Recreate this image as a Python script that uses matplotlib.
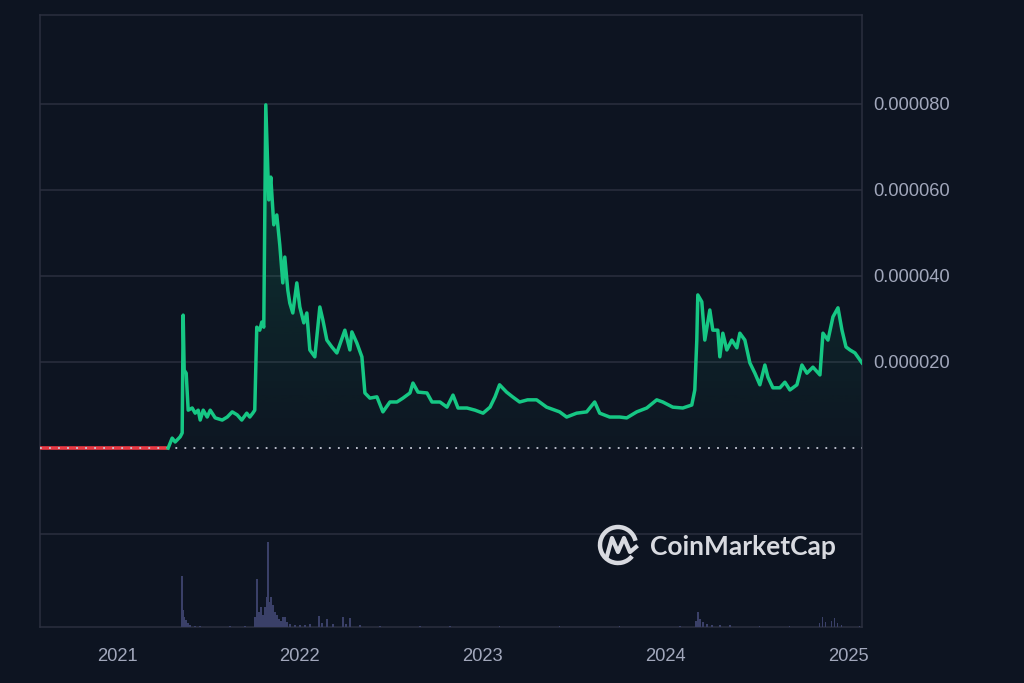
import numpy as np
import pandas as pd
import matplotlib
matplotlib.use("Agg")
import matplotlib.pyplot as plt
import matplotlib.dates as mdates
from matplotlib.patches import Arc
from matplotlib.lines import Line2D

# price in units of 1e-6 USD
dates = ["2021-04-13", "2021-04-21", "2021-04-27", "2021-05-07", "2021-05-11", "2021-05-13",
         "2021-05-15", "2021-05-19", "2021-05-23", "2021-05-31", "2021-06-06", "2021-06-12",
         "2021-06-16", "2021-06-22", "2021-06-30", "2021-07-06", "2021-07-16", "2021-07-30",
         "2021-08-09", "2021-08-19", "2021-08-29", "2021-09-07", "2021-09-17", "2021-09-23",
         "2021-09-29", "2021-10-03", "2021-10-07", "2021-10-13", "2021-10-17", "2021-10-21",
         "2021-10-25", "2021-10-31", "2021-11-04", "2021-11-10", "2021-11-16", "2021-11-22",
         "2021-11-28", "2021-12-02", "2021-12-08", "2021-12-12", "2021-12-18", "2021-12-26",
         "2022-01-01", "2022-01-09", "2022-01-15", "2022-01-21", "2022-01-31", "2022-02-10",
         "2022-02-16", "2022-02-24", "2022-03-06", "2022-03-16", "2022-04-01", "2022-04-11",
         "2022-04-15", "2022-04-25", "2022-05-05", "2022-05-11", "2022-05-21", "2022-06-04",
         "2022-06-16", "2022-06-30", "2022-07-14", "2022-07-26", "2022-08-09", "2022-08-15",
         "2022-08-25", "2022-09-12", "2022-09-22", "2022-10-08", "2022-10-22", "2022-11-03",
         "2022-11-13", "2022-12-01", "2022-12-17", "2023-01-02", "2023-01-16", "2023-01-26",
         "2023-02-04", "2023-02-18", "2023-03-02", "2023-03-16", "2023-04-01", "2023-04-19",
         "2023-05-09", "2023-06-04", "2023-06-18", "2023-07-08", "2023-07-28", "2023-08-13",
         "2023-08-23", "2023-09-12", "2023-10-02", "2023-10-16", "2023-11-05", "2023-11-25",
         "2023-12-15", "2023-12-27", "2024-01-16", "2024-02-05", "2024-02-23", "2024-02-29",
         "2024-03-04", "2024-03-06", "2024-03-14", "2024-03-20", "2024-03-30", "2024-04-05",
         "2024-04-15", "2024-04-19", "2024-04-25", "2024-05-03", "2024-05-13", "2024-05-23",
         "2024-05-29", "2024-06-08", "2024-06-18", "2024-06-28", "2024-07-08", "2024-07-18",
         "2024-07-24", "2024-08-03", "2024-08-17", "2024-08-27", "2024-09-06", "2024-09-20",
         "2024-09-30", "2024-10-10", "2024-10-22", "2024-11-05", "2024-11-11", "2024-11-21",
         "2024-12-01", "2024-12-11", "2024-12-19", "2024-12-27", "2025-01-04", "2025-01-14",
         "2025-01-28"]
price = [0.0, 2.3, 1.4, 2.6, 3.5, 30.9,
         18.1, 17.4, 8.8, 9.3, 8.1, 8.8,
         6.5, 8.8, 7.2, 8.8, 7.0, 6.5,
         7.2, 8.4, 7.7, 6.5, 8.1, 7.2,
         8.1, 8.8, 28.1, 27.4, 29.3, 28.1,
         79.8, 57.7, 63.0, 51.9, 54.2, 47.2,
         38.4, 44.4, 36.7, 33.7, 31.4, 38.4,
         32.8, 29.1, 31.4, 22.8, 21.2, 32.8,
         29.8, 25.1, 23.5, 22.1, 27.4, 22.8,
         27.0, 24.4, 21.2, 12.8, 11.6, 11.9,
         8.4, 10.7, 10.7, 11.6, 12.8, 15.1,
         13.0, 12.8, 10.7, 10.7, 9.5, 12.3,
         9.3, 9.3, 8.8, 8.1, 9.5, 11.9,
         14.7, 13.0, 11.9, 10.7, 11.2, 11.2,
         9.5, 8.4, 7.2, 8.1, 8.4, 10.7,
         8.1, 7.2, 7.2, 7.0, 8.4, 9.3,
         11.2, 10.7, 9.5, 9.3, 10.0, 13.5,
         25.1, 35.6, 34.0, 25.1, 32.1, 27.4,
         27.4, 21.2, 26.7, 22.8, 25.1, 23.3,
         26.7, 25.1, 19.8, 17.4, 14.7, 19.3,
         16.5, 14.0, 14.0, 15.3, 13.5, 14.7,
         19.3, 17.4, 18.8, 17.0, 26.7, 25.1,
         30.5, 32.6, 27.4, 23.5, 22.8, 22.1,
         19.8]

# period before trading (flat red segment)
pre_dates = ["2020-07-31", "2021-04-13"]
pre_price = [0.0, 0.0]

# volume, relative units
vol_dates = ["2021-05-11", "2021-05-13", "2021-05-15", "2021-05-19", "2021-05-23", "2021-05-27",
             "2021-06-06", "2021-06-16", "2021-08-15", "2021-09-13", "2021-10-03", "2021-10-07",
             "2021-10-11", "2021-10-15", "2021-10-19", "2021-10-23", "2021-10-27", "2021-10-29",
             "2021-10-31", "2021-11-04", "2021-11-08", "2021-11-12", "2021-11-16", "2021-11-20",
             "2021-11-24", "2021-11-28", "2021-12-02", "2021-12-06", "2021-12-12", "2021-12-22",
             "2022-01-01", "2022-01-11", "2022-01-21", "2022-02-08", "2022-02-14", "2022-02-24",
             "2022-03-08", "2022-03-28", "2022-04-03", "2022-04-11", "2022-05-01", "2022-06-10",
             "2022-08-29", "2022-10-28", "2023-02-04", "2023-06-04", "2023-10-02", "2024-01-30",
             "2024-03-02", "2024-03-06", "2024-03-10", "2024-03-16", "2024-03-24", "2024-04-03",
             "2024-04-19", "2024-05-09", "2024-07-07", "2024-09-05", "2024-11-04", "2024-11-10",
             "2024-11-16", "2024-11-28", "2024-12-04", "2024-12-10", "2024-12-18", "2025-01-23"]
volume = [51, 17, 10, 7, 4, 2,
          1, 1, 1, 1, 10, 48,
          15, 20, 12, 20, 30, 85,
          25, 30, 22, 15, 12, 8,
          6, 10, 10, 5, 3, 2,
          2, 2, 3, 11, 4, 8,
          3, 10, 3, 9, 2, 1,
          1, 1, 1, 1, 1, 1,
          6, 15, 8, 5, 3, 2,
          2, 2, 1, 1, 4, 10,
          5, 6, 9, 4, 2, 1]

year_ticks = ["2021", "2022", "2023", "2024", "2025"]
price_ticks = [20, 40, 60, 80]
grid_levels = [-20, 20, 40, 60, 80]

BG = "#0d1421"
GRID = "#2b2f3e"
GREEN = "#16c784"
RED = "#ea3943"
TXT = "#a1a7bb"

d = pd.to_datetime(dates)
p = np.array(price)
vd = pd.to_datetime(vol_dates)

fig = plt.figure(figsize=(10.24, 6.83), dpi=100, facecolor=BG)
W, H = 1024, 683
ax = fig.add_axes([40 / W, (H - 627) / H, (862 - 40) / W, (627 - 15) / H])
ax.set_facecolor(BG)

xmin, xmax = pd.Timestamp("2020-07-31"), pd.Timestamp("2025-01-28")
ylo, yhi = -179 / 86 * 20, 433 / 86 * 20

for lv in grid_levels:
    ax.axhline(lv, color=GRID, lw=1.1, zorder=1)

# gradient fill under the line
grad = np.linspace(0, 1, 256)
cols = np.zeros((256, 1, 4))
cols[:, 0, :3] = matplotlib.colors.to_rgb(GREEN)
cols[:, 0, 3] = 0.02 + 0.22 * grad ** 1.2
img = ax.imshow(cols, extent=[mdates.date2num(d[0]), mdates.date2num(d[-1]), 0, p.max()],
                origin="lower", aspect="auto", zorder=2)
poly = ax.fill_between(d, p, 0, color="none")
img.set_clip_path(poly.get_paths()[0], transform=ax.transData)

ax.plot(pd.to_datetime(pre_dates), pre_price, color=RED, lw=2.6, zorder=3, solid_capstyle="butt")
ax.axhline(0, color="#c6cad6", lw=1.3, ls=(0, (1, 4)), zorder=4)
ax.plot(d, p, color=GREEN, lw=2.5, zorder=5, solid_joinstyle="round")
ax.set_xlim(xmin, xmax)
ax.set_ylim(ylo, yhi)

# volume panel
ax2 = ax.twinx()
ax2.set_ylim(0, 612)
ax2.bar(vd, volume, width=3, color="#3a4068", zorder=2)
ax2.set_xlim(xmin, xmax)
ax2.set_yticks([])
ax2.patch.set_visible(False)
for s in ax2.spines.values():
    s.set_visible(False)

ax.yaxis.tick_right()
ax.set_yticks(price_ticks)
ax.set_yticklabels([f"{v * 1e-6:.6f}" for v in price_ticks])
ax.set_xticks(pd.to_datetime([y + "-01-01" for y in year_ticks]))
ax.set_xticklabels(year_ticks)
ax.tick_params(axis="both", length=0, colors=TXT, labelsize=13.2)
ax.tick_params(axis="y", pad=8, labelright=True, labelleft=False)
ax.tick_params(axis="x", pad=15)
for lab in ax.get_xticklabels() + ax.get_yticklabels():
    lab.set_fontfamily("Liberation Sans")
for s in ax.spines.values():
    s.set_color(GRID)
    s.set_linewidth(1.1)

# watermark
cx, cy, r = 618, 545, 18
fig.patches.append(Arc((cx / W, (H - cy) / H), 2 * r / W, 2 * r / H, theta1=20, theta2=310,
                       transform=fig.transFigure, color="#d8dae0", lw=3.2))
mx = [607, 612, 618, 624, 630, 636]
my = [556, 538, 552, 538, 552, 547]
fig.lines.append(Line2D([x / W for x in mx], [(H - y) / H for y in my],
                        transform=fig.transFigure, color="#d8dae0", lw=3, solid_joinstyle="round"))
fig.text(650 / W, (H - 547) / H, "CoinMarketCap", color="#d8dae0", fontsize=19,
         fontweight="bold", family="Lato", va="center", ha="left")

fig.savefig("out.png", dpi=100, facecolor=BG)
